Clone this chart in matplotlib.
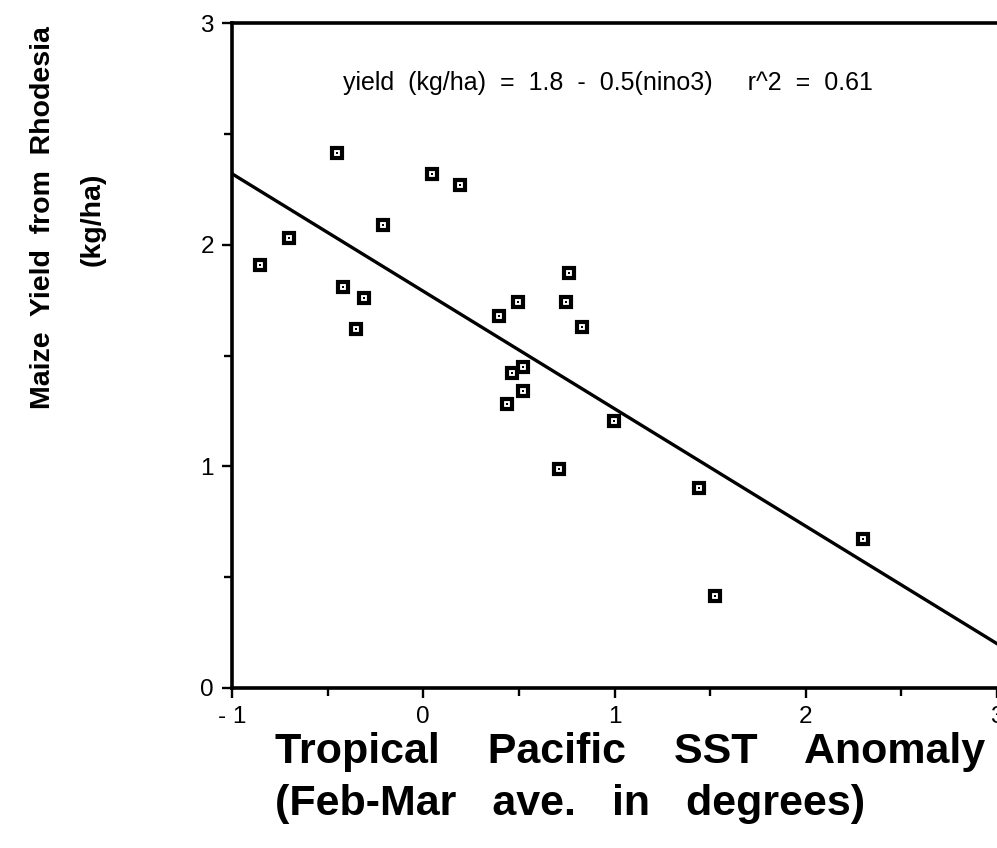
import numpy as np
import matplotlib
matplotlib.use("Agg")
import matplotlib.pyplot as plt
from matplotlib.ticker import MultipleLocator

plt.rcParams['font.family'] = ['Liberation Sans', 'DejaVu Sans']

# SST anomaly (Feb-Mar) vs maize yield
sst = [-0.45, 0.045, 0.19, -0.21, -0.70, -0.856, -0.42, -0.31, -0.35,
       0.76, 0.495, 0.746, 0.397, 0.83, 0.52, 0.465, 0.52, 0.437,
       0.995, 0.71, 1.444, 2.30, 1.526]
yld = [2.415, 2.318, 2.27, 2.09, 2.03, 1.91, 1.81, 1.76, 1.62,
       1.87, 1.74, 1.74, 1.677, 1.627, 1.45, 1.42, 1.34, 1.28,
       1.204, 0.988, 0.902, 0.671, 0.415]

# regression line as drawn
fit_intercept = 1.79
fit_slope = -0.53
x_ticks = [-1, 0, 1, 2, 3]
x_ticklabels = ['- 1', '0', '1', '2', '3']
y_ticks = [0, 1, 2, 3]

fig = plt.figure(figsize=(9.97, 8.48), dpi=100)
ax = fig.add_axes([232 / 997, 160 / 848, 765 / 997, 665 / 848])

xl = np.array([-1, 3])
ax.plot(xl, fit_intercept + fit_slope * xl, color='black', lw=2.4, zorder=2)

# open-square markers with a centre dot
ax.plot(sst, yld, ls='none', marker='s', ms=7.5, mew=3.0,
        mfc='white', mec='black', zorder=3)
ax.plot(sst, yld, ls='none', marker='s', ms=1.7, mew=0,
        mfc='black', zorder=4)

ax.set_xlim(-1, 3)
ax.set_ylim(0, 3)
ax.set_xticks(x_ticks)
ax.set_xticklabels(x_ticklabels)
ax.set_yticks(y_ticks)
ax.xaxis.set_minor_locator(MultipleLocator(0.5))
ax.yaxis.set_minor_locator(MultipleLocator(0.5))
ax.tick_params(which='both', direction='out', width=1.7, colors='black',
               labelsize=17.5, top=False, right=False)
ax.tick_params(which='major', length=7, pad=6)
ax.tick_params(which='minor', length=6)

for side in ['left', 'bottom', 'top']:
    ax.spines[side].set_linewidth(2.6)
ax.spines['right'].set_visible(False)

ax.text(-0.418, 2.73, 'yield  (kg/ha)  =  1.8  -  0.5(nino3)     r^2  =  0.61',
        fontsize=18, ha='left', va='center')

# axis titles, placed the way the original has them
fig.text(43 / 997, 1 - 218 / 848, 'Maize  Yield  from  Rhodesia',
         rotation=90, fontsize=20.5, fontweight='bold', ha='center', va='center')
fig.text(93 / 997, 1 - 219 / 848, '(kg/ha)',
         rotation=90, fontsize=20.5, fontweight='bold', ha='center', va='center')
fig.text(275 / 997, 1 - 752 / 848, 'Tropical    Pacific    SST    Anomaly',
         fontsize=31, fontweight='bold', ha='left', va='center')
fig.text(275 / 997, 1 - 804 / 848, '(Feb-Mar   ave.   in   degrees)',
         fontsize=31, fontweight='bold', ha='left', va='center')

fig.savefig('out.png', dpi=100)
